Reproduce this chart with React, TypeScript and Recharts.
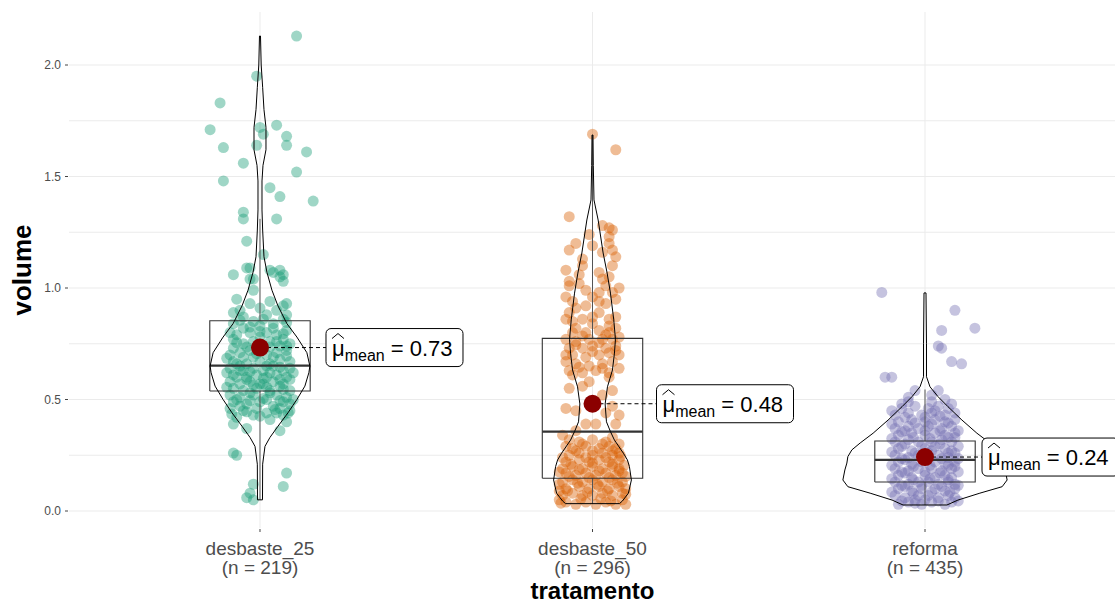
import React from 'react';
import { ComposedChart, Scatter, XAxis, YAxis, CartesianGrid } from 'recharts';

// ---------- data ----------
const CATEGORIES = ['desbaste_25', 'desbaste_50', 'reforma'];
const COUNTS = [219, 296, 435];
const MEANS = [0.733, 0.481, 0.242];
const Q1 = [0.538, 0.147, 0.13];
const MEDIAN = [0.652, 0.356, 0.229];
const Q3 = [0.853, 0.774, 0.314];
const WHISKER_LO = [0.05, 0.033, 0.027];
const WHISKER_HI = [1.31, 1.686, 0.545];
const Y_TICKS = [0, 0.25, 0.5, 0.75, 1.0, 1.25, 1.5, 1.75, 2.0];
const X_TICKS = [1, 2, 3];

// violin outlines: [value, half-width in category units]
const VIOLIN_25: number[][] = [
  [0.05, 0.0075], [0.21, 0.008], [0.29, 0.015], [0.33, 0.03], [0.38, 0.054], [0.44, 0.084],
  [0.5, 0.111], [0.56, 0.135], [0.62, 0.147], [0.65, 0.15], [0.71, 0.141], [0.78, 0.111],
  [0.84, 0.081], [0.92, 0.054], [0.99, 0.036], [1.07, 0.021], [1.14, 0.012], [1.26, 0.008],
  [1.35, 0.006], [1.48, 0.006], [1.55, 0.009], [1.62, 0.018], [1.72, 0.018], [1.8, 0.012],
  [1.9, 0.008], [2.0, 0.0036], [2.13, 0.0015],
];
const VIOLIN_50: number[][] = [
  [0.033, 0.081], [0.045, 0.09], [0.08, 0.108], [0.139, 0.117], [0.199, 0.111], [0.229, 0.105],
  [0.259, 0.093], [0.318, 0.066], [0.356, 0.054], [0.4, 0.042], [0.48, 0.038], [0.557, 0.045],
  [0.632, 0.06], [0.708, 0.066], [0.77, 0.069], [0.857, 0.064], [0.977, 0.054], [1.067, 0.044],
  [1.157, 0.032], [1.305, 0.017], [1.395, 0.0045], [1.55, 0.0024], [1.686, 0.0015],
];
const VIOLIN_REF: number[][] = [
  [0.027, 0.066], [0.049, 0.099], [0.08, 0.165], [0.109, 0.232], [0.139, 0.247], [0.184, 0.241],
  [0.215, 0.235], [0.244, 0.232], [0.274, 0.22], [0.305, 0.195], [0.349, 0.156], [0.408, 0.111],
  [0.468, 0.069], [0.513, 0.039], [0.557, 0.015], [0.602, 0.0045], [0.75, 0.0045], [0.978, 0.003],
];

// jittered observations: [jitter offset, volume]
const POINTS_25: number[][] = [
  [0.11, 2.13], [-0.01, 1.95], [-0.12, 1.83], [-0.15, 1.71], [0.05, 1.73], [0.0, 1.72], [0.01, 1.69],
  [0.08, 1.68], [0.08, 1.64], [-0.11, 1.63], [-0.01, 1.64], [0.14, 1.61], [-0.05, 1.56], [0.11, 1.52],
  [-0.11, 1.48], [0.03, 1.45], [0.06, 1.41], [0.16, 1.39], [-0.05, 1.34], [-0.05, 1.31], [0.05, 1.31],
  [-0.04, 1.21], [0.01, 1.15], [-0.03, 1.09], [-0.08, 1.06], [0.03, 1.08], [0.06, 1.08], [0.07, 1.06],
  [0.07, 1.03], [-0.03, 1.04], [-0.04, 1.09], [-0.02, 1.04], [0.04, 1.07], [0.06, 1.05], [-0.02, 0.99],
  [-0.07, 0.95], [0.07, 0.92], [-0.08, 0.89], [0.08, 0.88],
  [-0.08, 0.26], [-0.07, 0.25], [0.08, 0.17], [0.07, 0.11], [-0.02, 0.12], [-0.03, 0.08], [-0.02, 0.05],
  [-0.04, 0.06], [-0.08, 0.39], [-0.04, 0.37], [0.08, 0.4], [0.06, 0.36],
  [-0.07, 0.42], [-0.02, 0.43], [0.03, 0.41], [0.07, 0.43], [0.05, 0.44],
  [-0.09, 0.46], [-0.05, 0.45], [-0.01, 0.46], [0.02, 0.44], [0.06, 0.46], [0.09, 0.45],
  [-0.08, 0.49], [-0.04, 0.48], [0.0, 0.49], [0.04, 0.47], [0.07, 0.49], [-0.06, 0.47], [0.09, 0.48],
  [-0.09, 0.52], [-0.06, 0.51], [-0.02, 0.52], [0.02, 0.5], [0.05, 0.52], [0.08, 0.51], [0.03, 0.53],
  [-0.08, 0.55], [-0.05, 0.54], [-0.01, 0.55], [0.03, 0.54], [0.06, 0.56], [0.09, 0.54], [-0.03, 0.53], [0.01, 0.57],
  [-0.09, 0.58], [-0.06, 0.57], [-0.03, 0.58], [0.0, 0.57], [0.04, 0.58], [0.07, 0.57], [0.09, 0.59], [-0.07, 0.6],
  [-0.08, 0.61], [-0.04, 0.6], [-0.01, 0.61], [0.02, 0.6], [0.05, 0.61], [0.08, 0.6], [0.03, 0.62], [-0.06, 0.63],
  [-0.09, 0.64], [-0.05, 0.63], [-0.02, 0.64], [0.01, 0.63], [0.04, 0.65], [0.07, 0.63], [0.09, 0.64], [-0.07, 0.66],
  [-0.08, 0.67], [-0.04, 0.66], [0.0, 0.67], [0.03, 0.66], [0.06, 0.68], [0.09, 0.67], [-0.02, 0.69], [0.02, 0.7],
  [-0.09, 0.7], [-0.06, 0.71], [-0.03, 0.72], [0.05, 0.71], [0.08, 0.72], [-0.08, 0.73], [0.01, 0.73], [0.06, 0.74],
  [-0.05, 0.75], [-0.02, 0.76], [0.03, 0.76], [0.07, 0.77], [-0.08, 0.77], [0.0, 0.78], [0.09, 0.75],
  [-0.07, 0.79], [-0.03, 0.8], [0.02, 0.8], [0.05, 0.79], [0.08, 0.81], [-0.05, 0.82], [0.0, 0.83],
  [-0.08, 0.84], [-0.02, 0.85], [0.04, 0.84], [0.07, 0.86], [-0.05, 0.87], [0.02, 0.88],
  [-0.06, 0.9], [0.0, 0.91], [0.05, 0.9], [-0.03, 0.93], [0.03, 0.94], [0.08, 0.93],
  [-0.085, 0.435], [-0.04, 0.445], [0.0, 0.425], [0.045, 0.455], [0.085, 0.44],
  [-0.07, 0.5], [-0.03, 0.495], [0.01, 0.505], [0.06, 0.495], [0.1, 0.5],
  [-0.1, 0.555], [-0.02, 0.565], [0.02, 0.555], [0.07, 0.545],
  [-0.04, 0.59], [0.01, 0.595], [0.06, 0.59], [-0.1, 0.62],
  [-0.03, 0.625], [0.02, 0.65], [0.06, 0.645], [0.1, 0.62], [-0.06, 0.65],
  [-0.1, 0.685], [-0.05, 0.69], [0.04, 0.69], [0.08, 0.695], [-0.01, 0.705],
  [-0.04, 0.735], [0.03, 0.735], [0.08, 0.74], [-0.07, 0.755], [0.05, 0.76],
  [-0.09, 0.8], [0.0, 0.805], [0.07, 0.795], [-0.03, 0.825], [0.04, 0.82],
  [-0.06, 0.855], [0.01, 0.86], [0.08, 0.845],
];
const POINTS_50: number[][] = [
  [0.0, 1.69], [0.07, 1.62], [-0.07, 1.32], [0.03, 1.28], [0.05, 1.27], [0.06, 1.26], [0.05, 1.23],
  [-0.01, 1.24], [-0.07, 1.17], [0.03, 1.16], [0.06, 1.17], [0.07, 1.14], [0.0, 1.19], [-0.03, 1.1],
  [0.02, 1.07], [0.05, 1.05], [-0.07, 1.03], [-0.07, 1.01], [-0.02, 0.99], [0.02, 0.98], [0.06, 0.98],
  [-0.06, 0.94], [0.07, 0.95], [0.02, 0.94], [-0.08, 0.86], [-0.07, 0.89], [-0.03, 0.86], [0.02, 0.89],
  [0.07, 0.87], [0.05, 0.83], [-0.05, 0.82], [0.07, 0.82], [-0.05, 0.91], [0.04, 1.01], [-0.04, 1.06],
  [-0.06, 0.85], [0.0, 0.87], [0.05, 0.86], [-0.02, 0.92], [0.04, 0.93], [-0.08, 0.96], [0.0, 0.96],
  [0.08, 1.0], [-0.04, 1.02], [0.03, 1.04], [-0.08, 1.08], [0.06, 1.1], [-0.03, 1.13], [0.05, 1.2], [-0.05, 1.2],
  [-0.07, 0.55], [-0.03, 0.56], [0.06, 0.54], [-0.08, 0.46], [-0.05, 0.45], [0.06, 0.47], [0.04, 0.44],
  [-0.02, 0.39], [0.01, 0.39], [0.07, 0.39], [-0.09, 0.34], [-0.05, 0.36], [0.03, 0.52], [-0.01, 0.58],
  [0.05, 0.6], [-0.06, 0.61], [0.08, 0.43],
  [-0.07, 0.63], [-0.03, 0.62], [0.01, 0.63], [0.05, 0.62], [0.08, 0.64],
  [-0.05, 0.66], [-0.01, 0.65], [0.03, 0.66], [0.06, 0.67], [-0.08, 0.67],
  [-0.06, 0.7], [-0.02, 0.69], [0.02, 0.7], [0.05, 0.71], [0.08, 0.7],
  [-0.07, 0.73], [-0.03, 0.73], [0.0, 0.74], [0.04, 0.73], [0.07, 0.74],
  [-0.05, 0.76], [-0.01, 0.77], [0.03, 0.77], [0.06, 0.77], [-0.08, 0.77],
  [-0.06, 0.8], [-0.02, 0.8], [0.02, 0.81], [0.05, 0.8], [0.0, 0.84],
  [-0.04, 0.645], [0.03, 0.64], [-0.08, 0.7], [0.0, 0.715], [0.07, 0.72], [-0.05, 0.745], [0.02, 0.755],
  [-0.03, 0.785], [0.04, 0.79], [0.08, 0.78],
  [-0.08, 0.04], [-0.05, 0.03], [-0.02, 0.04], [0.01, 0.03], [0.04, 0.04], [0.07, 0.03], [0.09, 0.05], [-0.1, 0.05],
  [-0.09, 0.07], [-0.06, 0.08], [-0.03, 0.07], [0.0, 0.07], [0.03, 0.08], [0.06, 0.07], [0.09, 0.08], [-0.1, 0.09],
  [-0.08, 0.1], [-0.04, 0.11], [-0.01, 0.1], [0.02, 0.11], [0.05, 0.1], [0.08, 0.11], [0.1, 0.1],
  [-0.09, 0.13], [-0.06, 0.14], [-0.03, 0.13], [0.0, 0.14], [0.03, 0.13], [0.06, 0.14], [0.09, 0.13],
  [-0.08, 0.17], [-0.05, 0.16], [-0.02, 0.17], [0.01, 0.16], [0.04, 0.17], [0.07, 0.16], [0.09, 0.17],
  [-0.09, 0.19], [-0.06, 0.2], [-0.03, 0.19], [0.0, 0.2], [0.03, 0.19], [0.06, 0.2], [0.08, 0.19],
  [-0.08, 0.22], [-0.04, 0.23], [-0.01, 0.22], [0.02, 0.23], [0.05, 0.22], [0.08, 0.23],
  [-0.07, 0.25], [-0.04, 0.26], [0.0, 0.25], [0.03, 0.26], [0.06, 0.25], [0.08, 0.26],
  [-0.06, 0.28], [-0.02, 0.29], [0.02, 0.28], [0.05, 0.29], [0.07, 0.28],
  [-0.04, 0.31], [0.0, 0.32], [0.04, 0.31], [-0.07, 0.32], [0.06, 0.33],
  [-0.095, 0.035], [-0.035, 0.055], [0.025, 0.055], [0.055, 0.045], [0.1, 0.03],
  [-0.075, 0.09], [-0.015, 0.085], [0.045, 0.09], [0.1, 0.075],
  [-0.1, 0.12], [-0.045, 0.125], [0.015, 0.12], [0.075, 0.125],
  [-0.07, 0.155], [-0.01, 0.15], [0.05, 0.15], [0.1, 0.155],
  [-0.1, 0.175], [-0.04, 0.185], [0.02, 0.18], [0.08, 0.18],
  [-0.065, 0.21], [0.0, 0.215], [0.06, 0.21], [0.095, 0.205],
  [-0.09, 0.24], [-0.02, 0.24], [0.04, 0.24], [0.085, 0.245],
  [-0.05, 0.27], [0.0, 0.27], [0.06, 0.27], [-0.08, 0.29],
  [-0.03, 0.3], [0.03, 0.3], [0.08, 0.3],
];
const POINTS_REF: number[][] = [
  [-0.13, 0.98], [0.09, 0.9], [0.15, 0.82], [0.05, 0.81], [0.04, 0.74], [0.05, 0.73], [0.08, 0.67],
  [0.11, 0.66], [-0.12, 0.6], [-0.1, 0.6], [-0.03, 0.54], [0.04, 0.54], [-0.07, 0.48], [0.08, 0.48],
  [0.02, 0.52], [-0.05, 0.51],
  [-0.08, 0.03], [-0.05, 0.04], [-0.01, 0.03], [0.02, 0.04], [0.06, 0.03], [0.08, 0.04], [-0.03, 0.05],
  [-0.09, 0.07], [-0.06, 0.06], [-0.02, 0.07], [0.01, 0.07], [0.04, 0.06], [0.07, 0.07], [0.09, 0.06],
  [-0.08, 0.1], [-0.04, 0.09], [-0.01, 0.1], [0.03, 0.1], [0.06, 0.09], [0.09, 0.1], [-0.06, 0.11],
  [-0.09, 0.13], [-0.05, 0.12], [-0.02, 0.13], [0.01, 0.13], [0.04, 0.12], [0.07, 0.13], [0.09, 0.12],
  [-0.08, 0.16], [-0.04, 0.15], [0.0, 0.16], [0.03, 0.15], [0.06, 0.16], [0.08, 0.15], [-0.06, 0.17],
  [-0.09, 0.19], [-0.05, 0.18], [-0.02, 0.19], [0.02, 0.19], [0.05, 0.18], [0.08, 0.19], [0.09, 0.2],
  [-0.08, 0.22], [-0.04, 0.21], [-0.01, 0.22], [0.03, 0.22], [0.06, 0.21], [0.09, 0.22], [-0.06, 0.23],
  [-0.09, 0.25], [-0.05, 0.24], [-0.02, 0.25], [0.01, 0.26], [0.04, 0.25], [0.07, 0.24], [0.09, 0.26],
  [-0.08, 0.28], [-0.04, 0.27], [0.0, 0.28], [0.03, 0.29], [0.06, 0.28], [0.08, 0.27], [-0.06, 0.3],
  [-0.09, 0.31], [-0.05, 0.32], [-0.02, 0.31], [0.02, 0.31], [0.05, 0.32], [0.08, 0.31], [0.09, 0.33],
  [-0.08, 0.34], [-0.04, 0.35], [0.0, 0.34], [0.03, 0.35], [0.06, 0.34], [0.09, 0.35], [-0.06, 0.36],
  [-0.09, 0.37], [-0.05, 0.38], [-0.02, 0.37], [0.01, 0.38], [0.05, 0.37], [0.08, 0.38],
  [-0.08, 0.4], [-0.04, 0.41], [0.0, 0.4], [0.03, 0.41], [0.06, 0.4], [0.09, 0.41],
  [-0.09, 0.43], [-0.05, 0.44], [-0.01, 0.43], [0.02, 0.44], [0.06, 0.43], [0.09, 0.44],
  [-0.07, 0.46], [-0.03, 0.47], [0.01, 0.46], [0.04, 0.47], [0.07, 0.46],
  [-0.07, 0.045], [-0.03, 0.035], [0.0, 0.05], [0.04, 0.045], [0.1, 0.045],
  [-0.1, 0.085], [-0.035, 0.08], [0.02, 0.085], [0.075, 0.085],
  [-0.07, 0.115], [-0.01, 0.115], [0.05, 0.11], [0.1, 0.115],
  [-0.1, 0.145], [-0.035, 0.14], [0.015, 0.145], [0.07, 0.14],
  [-0.07, 0.175], [0.0, 0.175], [0.045, 0.17], [0.1, 0.175],
  [-0.1, 0.205], [-0.035, 0.2], [0.015, 0.205], [0.07, 0.205],
  [-0.07, 0.235], [0.0, 0.235], [0.05, 0.235], [0.1, 0.235],
  [-0.1, 0.265], [-0.03, 0.26], [0.02, 0.27], [0.07, 0.26],
  [-0.07, 0.29], [-0.01, 0.295], [0.045, 0.3], [0.1, 0.29],
  [-0.1, 0.325], [-0.035, 0.33], [0.015, 0.325], [0.07, 0.33],
  [-0.07, 0.355], [0.0, 0.36], [0.045, 0.36], [0.1, 0.36],
  [-0.1, 0.39], [-0.03, 0.395], [0.02, 0.39], [0.07, 0.395],
  [-0.06, 0.42], [0.0, 0.42], [0.045, 0.425], [-0.1, 0.45], [0.03, 0.45], [-0.05, 0.49], [0.02, 0.49], [0.06, 0.5],
];

// ---------- styling ----------
const COLORS = ['#1B9E77', '#D95F02', '#7570B3'];
const FONT = "'Liberation Sans', Arial, Helvetica, sans-serif";
const BOX_HALF = 0.151;
const LABEL_OFFSET = [66, 64, 57];
const LABEL_W = 137;
const LABEL_H = 38;

const POINT_SETS = [POINTS_25, POINTS_50, POINTS_REF];
const VIOLINS = [VIOLIN_25, VIOLIN_50, VIOLIN_REF];

const pointData = (i: number) => POINT_SETS[i].map(([dx, v]) => ({ x: i + 1 + dx, y: v }));
const violinData = (i: number) => {
  const c = i + 1;
  const right = VIOLINS[i].map(([v, w]) => ({ x: c + w, y: v }));
  const left = VIOLINS[i].slice().reverse().map(([v, w]) => ({ x: c - w, y: v }));
  return [...right, ...left, right[0]];
};
const boxData = (i: number) => {
  const c = i + 1;
  return [
    { x: c - BOX_HALF, y: Q1[i] }, { x: c + BOX_HALF, y: Q1[i] }, { x: c + BOX_HALF, y: Q3[i] },
    { x: c - BOX_HALF, y: Q3[i] }, { x: c - BOX_HALF, y: Q1[i] },
  ];
};
const medianData = (i: number) => [{ x: i + 1 - BOX_HALF, y: MEDIAN[i] }, { x: i + 1 + BOX_HALF, y: MEDIAN[i] }];
const whiskerHi = (i: number) => [{ x: i + 1, y: Q3[i] }, { x: i + 1, y: WHISKER_HI[i] }];
const whiskerLo = (i: number) => [{ x: i + 1, y: Q1[i] }, { x: i + 1, y: WHISKER_LO[i] }];
const meanData = MEANS.map((m, i) => ({ x: i + 1, y: m, idx: i, label: m.toFixed(2) }));

const Empty = () => <g />;

const makeDot = (color: string) => (p: any) => (
  <circle cx={p.cx} cy={p.cy} r={5.5} fill={color} fillOpacity={0.42} stroke="none" />
);

const MeanShape = (p: any) => {
  const { cx, cy, payload } = p;
  const bx = cx + LABEL_OFFSET[payload.idx];
  return (
    <g>
      <line x1={cx} y1={cy} x2={bx} y2={cy} stroke="#000" strokeWidth={1} strokeDasharray="4 3" />
      <circle cx={cx} cy={cy} r={9} fill="#8B0000" />
      <rect x={bx} y={cy - LABEL_H / 2} width={LABEL_W} height={LABEL_H} rx={5} ry={5} fill="#fff" stroke="#000" strokeWidth={1} />
      <path d={`M ${bx + 6} ${cy - 9} L ${bx + 12} ${cy - 14} L ${bx + 18} ${cy - 9}`} stroke="#000" strokeWidth={1} fill="none" />
      <text x={bx + 6} y={cy + 8} fontFamily={FONT} fontSize={22} fill="#000">
        μ
        <tspan fontSize={16} dy={5}>mean</tspan>
        <tspan dy={-5}>{` = ${payload.label}`}</tspan>
      </text>
    </g>
  );
};

const XTick = (p: any) => {
  const { x, y, payload } = p;
  const i = Math.round(payload.value) - 1;
  return (
    <g>
      <line x1={x} x2={x} y1={y + 1} y2={y + 4} stroke="#444" strokeWidth={1} />
      <text x={x} y={y + 27} textAnchor="middle" fontFamily={FONT} fontSize={19} fill="#4D4D4D">{CATEGORIES[i]}</text>
      <text x={x} y={y + 46} textAnchor="middle" fontFamily={FONT} fontSize={19} fill="#4D4D4D">{`(n = ${COUNTS[i]})`}</text>
    </g>
  );
};

const YTick = (p: any) => {
  const { x, y, payload } = p;
  const v = payload.value;
  if (Math.abs(v * 2 - Math.round(v * 2)) > 1e-6) return <g />;
  return (
    <g>
      <line x1={x - 4} x2={x - 1} y1={y} y2={y} stroke="#444" strokeWidth={1} />
      <text x={x - 8} y={y + 4} textAnchor="end" fontFamily={FONT} fontSize={12} fill="#4D4D4D">{v.toFixed(1)}</text>
    </g>
  );
};

const YLabel = (p: any) => {
  const vb = p.viewBox;
  const cy = vb.y + vb.height / 2;
  return (
    <text x={31} y={cy} transform={`rotate(-90, 31, ${cy})`} textAnchor="middle" fontFamily={FONT} fontWeight="bold" fontSize={26} fill="#000">volume</text>
  );
};

const XLabel = (p: any) => {
  const vb = p.viewBox;
  return (
    <text x={vb.x + vb.width / 2} y={vb.y + 71} textAnchor="middle" fontFamily={FONT} fontWeight="bold" fontSize={24} fill="#000">tratamento</text>
  );
};

export default function App() {
  const idxs = [0, 1, 2];
  return (
    <div style={{ position: 'absolute', left: 0, top: 0, width: 1115, height: 603, overflow: 'hidden', background: '#fff' }}>
      <ComposedChart width={1116} height={603} margin={{ top: 12, right: 0, bottom: 0, left: 0 }}>
        <CartesianGrid stroke="#EBEBEB" strokeWidth={1} horizontalValues={Y_TICKS} verticalValues={X_TICKS} />
        <XAxis
          type="number"
          dataKey="x"
          domain={[0.4256, 3.5744]}
          ticks={X_TICKS}
          allowDataOverflow
          axisLine={false}
          tickLine={false}
          tickSize={0}
          tickMargin={0}
          height={75}
          tick={<XTick />}
          interval={0}
          label={XLabel}
        />
        <YAxis
          type="number"
          dataKey="y"
          domain={[-0.0762, 2.2377]}
          ticks={Y_TICKS}
          allowDataOverflow
          axisLine={false}
          tickLine={false}
          tickSize={0}
          tickMargin={0}
          width={69}
          tick={<YTick />}
          interval={0}
          label={YLabel}
        />
        {idxs.map((i) => (
          <Scatter key={`pts${i}`} data={pointData(i)} shape={makeDot(COLORS[i])} isAnimationActive={false} />
        ))}
        {idxs.map((i) => (
          <Scatter key={`wh${i}`} data={whiskerHi(i)} shape={Empty} line={{ stroke: '#555', strokeWidth: 1 }} isAnimationActive={false} />
        ))}
        {idxs.map((i) => (
          <Scatter key={`wl${i}`} data={whiskerLo(i)} shape={Empty} line={{ stroke: '#555', strokeWidth: 1 }} isAnimationActive={false} />
        ))}
        {idxs.map((i) => (
          <Scatter key={`box${i}`} data={boxData(i)} shape={Empty} line={{ stroke: '#333', strokeWidth: 1.1 }} isAnimationActive={false} />
        ))}
        {idxs.map((i) => (
          <Scatter key={`med${i}`} data={medianData(i)} shape={Empty} line={{ stroke: '#333', strokeWidth: 2.2 }} isAnimationActive={false} />
        ))}
        {idxs.map((i) => (
          <Scatter key={`vio${i}`} data={violinData(i)} shape={Empty} line={{ stroke: '#000', strokeWidth: 1 }} isAnimationActive={false} />
        ))}
        <Scatter data={meanData} shape={MeanShape} isAnimationActive={false} />
      </ComposedChart>
    </div>
  );
}
